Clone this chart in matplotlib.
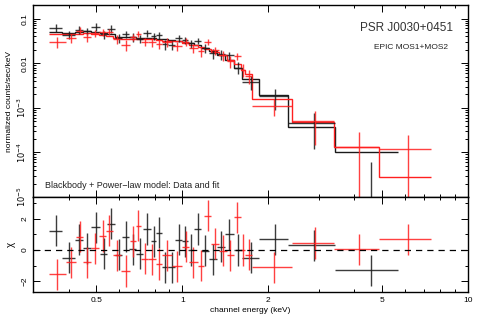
import numpy as np
import matplotlib
matplotlib.use("Agg")
import matplotlib.pyplot as plt
from matplotlib.ticker import FixedLocator, FixedFormatter, LogLocator, NullFormatter, MultipleLocator

plt.rcParams["font.family"] = ["Liberation Sans", "DejaVu Sans"]

# MOS1 (black): bin edges (keV), data rate, rate error, model rate, residual chi
mos1_edges = [0.34, 0.38, 0.42, 0.45, 0.48, 0.515, 0.545, 0.58, 0.615, 0.65, 0.69, 0.73,
              0.775, 0.81, 0.845, 0.89, 0.945, 0.995, 1.045, 1.10, 1.165, 1.24, 1.32, 1.41,
              1.51, 1.62, 1.86, 2.35, 3.42, 5.7]
mos1_rate = [0.0625, 0.0432, 0.0565, 0.053, 0.066, 0.0447, 0.059, 0.0367, 0.0445, 0.0384,
             0.0352, 0.047, 0.040, 0.0427, 0.0265, 0.0257, 0.036, 0.0333, 0.028, 0.0318,
             0.0218, 0.0165, 0.0158, 0.015, 0.008, 0.0038, 0.0018, 4.5e-4, 7e-6]
mos1_err = [1.3e-2, 9e-3, 1.1e-2, 1.0e-2, 1.2e-2, 9e-3, 1.1e-2, 8e-3, 8e-3, 8e-3,
            7e-3, 8e-3, 7.5e-3, 7.5e-3, 6.5e-3, 6.3e-3, 6.5e-3, 6e-3, 5.8e-3, 5.5e-3,
            4.8e-3, 4.2e-3, 3.8e-3, 3.2e-3, 2.4e-3, 1.3e-3, 9e-4, 3.3e-4, 5.5e-5]
mos1_model = [0.050, 0.048, 0.050, 0.052, 0.051, 0.047, 0.044, 0.039, 0.038, 0.038, 0.037,
              0.037, 0.036, 0.035, 0.034, 0.033, 0.032, 0.030, 0.028, 0.025, 0.022, 0.019,
              0.015, 0.012, 0.008, 0.0045, 0.0019, 3.8e-4, 1.0e-4]
mos1_chi = [1.25, -0.5, 0.65, 0.1, 1.45, -0.25, 1.7, -0.3, 0.85, 0.05, -0.25, 1.35, 0.55,
            1.1, -1.1, -1.1, 0.65, 0.55, 0.0, 1.35, -0.05, -0.6, 0.2, 1.0, 0.0, -0.5, 0.7,
            0.3, -1.3]

# MOS2 (red)
mos2_edges = [0.34, 0.39, 0.425, 0.45, 0.48, 0.51, 0.54, 0.57, 0.61, 0.655, 0.685, 0.715,
              0.76, 0.805, 0.845, 0.92, 1.0, 1.055, 1.13, 1.19, 1.26, 1.34, 1.43, 1.51, 1.6,
              1.66, 1.75, 2.42, 3.4, 4.88, 7.4]
mos2_rate = [0.0304, 0.037, 0.054, 0.0395, 0.047, 0.0507, 0.0513, 0.0344, 0.0256, 0.0389,
             0.0459, 0.0303, 0.030, 0.027, 0.0298, 0.0245, 0.030, 0.0218, 0.0184, 0.0302,
             0.0194, 0.0149, 0.011, 0.0145, 0.0072, 0.0053, 0.0011, 5.0e-4, 1.3e-4, 1.2e-4]
mos2_err = [9e-3, 9e-3, 1.0e-2, 9e-3, 9e-3, 9e-3, 8.5e-3, 7.5e-3, 7e-3, 7e-3, 7e-3, 6.5e-3,
            6.5e-3, 6.3e-3, 6.2e-3, 6e-3, 5.8e-3, 5.2e-3, 4.8e-3, 4.6e-3, 4.2e-3, 3.8e-3,
            3.2e-3, 2.6e-3, 2.2e-3, 1.8e-3, 4.5e-4, 3.5e-4, 1.6e-4, 1.3e-4]
mos2_model = [0.044, 0.044, 0.046, 0.047, 0.046, 0.043, 0.041, 0.037, 0.035, 0.035, 0.035,
              0.034, 0.034, 0.033, 0.032, 0.031, 0.029, 0.026, 0.023, 0.021, 0.018, 0.015,
              0.012, 0.0095, 0.0072, 0.0058, 0.0016, 4.9e-4, 1.3e-4, 2.8e-5]
mos2_chi = [-1.55, -0.8, 0.85, -0.8, 0.1, 0.9, 1.25, -0.35, -1.35, 0.55, 1.55, -0.55, -0.6,
            -0.9, -0.35, -1.05, 0.2, -0.8, -1.0, 2.2, 0.4, -0.05, -0.35, 2.1, 0.0, -0.3,
            -1.1, 0.45, 0.05, 0.7]

series = [(mos1_edges, mos1_rate, mos1_err, mos1_model, mos1_chi, "#1a1a1a"),
          (mos2_edges, mos2_rate, mos2_err, mos2_model, mos2_chi, "#ff2020")]

fig = plt.figure(figsize=(4.8, 3.22), dpi=100)
ax = fig.add_axes([0.069, 0.388, 0.906, 0.596])
axr = fig.add_axes([0.069, 0.093, 0.906, 0.295], sharex=ax)

for edges, rate, err, model, chi, col in series:
    e = np.asarray(edges)
    xc = 0.5 * (e[:-1] + e[1:])
    xw = 0.5 * (e[1:] - e[:-1])
    r = np.asarray(rate)
    er = np.asarray(err)
    lo = np.minimum(er, r - 1e-7)                      # lower bar runs off the log axis
    ax.errorbar(xc, r, xerr=xw, yerr=[lo, er], fmt="none", ecolor=col, elinewidth=1.0,
                capsize=0, alpha=0.85)
    ax.stairs(model, e, color=col, lw=1.0, baseline=None)
    axr.errorbar(xc, chi, xerr=xw, yerr=1.0, fmt="none", ecolor=col, elinewidth=1.0,
                 capsize=0, alpha=0.85)

axr.axhline(0, color="black", lw=0.9, ls=(0, (5, 4)))

ax.set_xscale("log")
ax.set_yscale("log")
ax.set_xlim(0.3, 10)
ax.set_ylim(1e-5, 0.2)
axr.set_ylim(-2.7, 3.4)

# ticks: inside, all four sides, PGPLOT style
for a in (ax, axr):
    a.tick_params(which="both", direction="in", top=True, right=True, labelsize=6, width=0.7)
    a.tick_params(which="major", length=5)
    a.tick_params(which="minor", length=2.5)
    for s in a.spines.values():
        s.set_linewidth(1.0)

ax.yaxis.set_major_locator(FixedLocator([1e-5, 1e-4, 1e-3, 0.01, 0.1]))
ax.yaxis.set_major_formatter(FixedFormatter(["$10^{-5}$", "$10^{-4}$", "$10^{-3}$", "0.01", "0.1"]))
ax.yaxis.set_minor_locator(LogLocator(base=10, subs=np.arange(2, 10), numticks=20))
ax.yaxis.set_minor_formatter(NullFormatter())
for lab in ax.get_yticklabels():
    lab.set_rotation(90)
    lab.set_va("center")

axr.xaxis.set_major_locator(FixedLocator([0.5, 1, 2, 5, 10]))
axr.xaxis.set_major_formatter(FixedFormatter(["0.5", "1", "2", "5", "10"]))
axr.xaxis.set_minor_locator(LogLocator(base=10, subs=np.arange(2, 10), numticks=20))
axr.xaxis.set_minor_formatter(NullFormatter())
plt.setp(ax.get_xticklabels(), visible=False)

axr.yaxis.set_major_locator(FixedLocator([-2, 0, 2]))
axr.yaxis.set_major_formatter(FixedFormatter(["\u22122", "0", "2"]))
axr.yaxis.set_minor_locator(MultipleLocator(1))
for lab in axr.get_yticklabels():
    lab.set_rotation(90)
    lab.set_va("center")

ax.set_ylabel("normalized counts/sec/keV", fontsize=6, labelpad=2)
axr.set_ylabel("\u03c7", fontsize=7, labelpad=4)
axr.set_xlabel("channel energy (keV)", fontsize=6, labelpad=2)

ax.text(0.966, 0.88, "PSR J0030+0451", transform=ax.transAxes, ha="right", va="center",
        fontsize=8.5, color="#333333")
ax.text(0.954, 0.78, "EPIC MOS1+MOS2", transform=ax.transAxes, ha="right", va="center",
        fontsize=6, color="#222222")
ax.text(0.028, 0.062, "Blackbody + Power\u2212law model: Data and fit", transform=ax.transAxes,
        ha="left", va="center", fontsize=6.5, color="#222222")

fig.savefig("out.png", dpi=100)
